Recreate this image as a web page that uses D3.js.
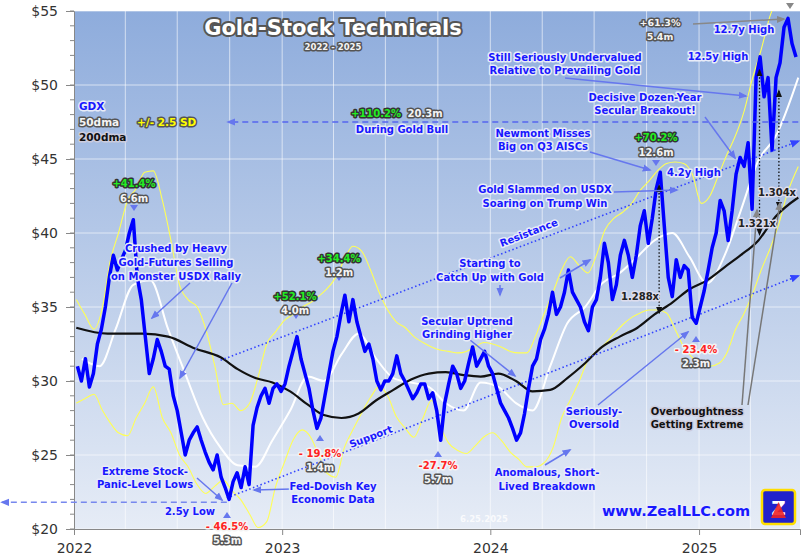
<!DOCTYPE html>
<html>
<head>
<meta charset="utf-8">
<script src="https://cdn.jsdelivr.net/npm/d3@7"></script>
<style>
  body { margin: 0; background: #fff; }
  text { font-family: "DejaVu Sans", Verdana, sans-serif; font-weight: bold; }
  .tick text { font-weight: normal; }
  .halo { paint-order: stroke; stroke-linejoin: round; }
</style>
</head>
<body>
<div id="chart"></div>
<script>
// GDX weekly closes, first week ending 2022-01-07
const gdx = [
  // 2022
  31.0, 30.0, 31.5, 29.6, 30.5, 32.5, 33.5, 35.0, 37.0, 38.5, 37.5, 38.2,
  38.8, 40.0, 40.9, 37.0, 35.5, 33.0, 30.5, 31.5, 32.8, 32.0, 31.0, 30.8, 29.0,
  28.0, 26.5, 25.0, 26.0, 26.5, 26.9, 26.0, 25.2, 24.5, 24.0, 25.0, 23.5, 22.8, 22.0,
  23.2, 23.8, 22.8, 24.2, 23.0, 27.0, 28.2, 29.0, 29.5, 28.5, 29.5, 29.8, 29.3,
  // 2023
  29.8, 31.0, 32.0, 33.0, 31.5, 30.5, 29.5, 28.0, 26.8, 27.5, 29.0, 30.5, 32.0,
  33.0, 34.5, 35.8, 34.0, 35.5, 34.0, 33.0, 32.0, 32.5, 31.5, 30.0, 29.4, 30.0,
  30.0, 30.5, 31.7, 30.5, 30.0, 29.4, 28.8, 29.2, 29.8, 29.8, 28.8, 29.2, 28.0,
  26.0, 28.5, 29.8, 31.0, 30.5, 29.5, 30.0, 31.2, 32.3, 31.0, 31.5, 32.0, 31.0,
  // 2024
  30.5, 29.5, 28.5, 28.0, 27.5, 26.8, 26.0, 26.5, 27.8, 29.5, 31.0, 31.5, 32.8,
  33.5, 34.5, 36.0, 34.5, 35.0, 36.0, 37.5, 36.0, 35.5, 35.0, 34.0, 33.4, 35.0,
  35.5, 37.0, 39.3, 38.0, 35.5, 36.5, 38.5, 39.5, 38.5, 37.0, 38.5, 40.5, 41.5,
  39.3, 41.0, 43.0, 44.1, 40.5, 37.0, 35.7, 38.2, 37.0, 37.8, 37.5, 34.3, 33.9,
  // 2025
  35.0, 36.1, 37.5, 39.0, 40.0, 42.2, 41.5, 39.5, 41.5, 44.0, 45.1, 44.5,
  46.1, 41.6, 50.5, 51.9, 49.2, 50.5, 45.6, 50.5, 51.5, 53.9, 54.5, 52.8, 51.9
]
const gdxStart = new Date(2022, 0, 7)

// 50dma (white), read at mid-month
const dma50Dates = ["2022-01-15","2022-02-15","2022-03-15","2022-04-15","2022-05-15","2022-06-15","2022-07-15","2022-08-15","2022-09-15","2022-10-15","2022-11-15","2022-12-15",
  "2023-01-15","2023-02-15","2023-03-15","2023-04-15","2023-05-15","2023-06-15","2023-07-15","2023-08-15","2023-09-15","2023-10-15","2023-11-15","2023-12-15",
  "2024-01-15","2024-02-15","2024-03-15","2024-04-15","2024-05-15","2024-06-15","2024-07-15","2024-08-15","2024-09-15","2024-10-15","2024-11-15","2024-12-15",
  "2025-01-15","2025-02-15","2025-03-15","2025-04-15","2025-05-15","2025-06-24"]
const dma50 = [31.5, 31.0, 33.5, 36.5, 36.8, 33.5, 30.5, 27.5, 25.5, 24.3, 24.2, 26.0,
  28.0, 30.3, 30.0, 31.8, 33.2, 31.5, 30.2, 29.9, 29.6, 28.5, 28.0, 29.9,
  29.6, 28.5, 28.0, 31.0, 33.9, 35.0, 36.6, 37.3, 38.4, 39.5, 40.0, 38.4,
  36.6, 38.5, 41.5, 44.9, 46.5, 50.5]

// 200dma (black), monthly
const dma200Dates = ["2022-01-05","2022-03-01","2022-05-01","2022-06-15","2022-08-01","2022-09-15","2022-10-15","2022-11-15","2022-12-15",
  "2023-01-15","2023-02-15","2023-03-15","2023-04-15","2023-05-15","2023-06-15","2023-07-15","2023-08-15","2023-09-15","2023-10-15","2023-11-15","2023-12-15",
  "2024-01-15","2024-02-15","2024-03-15","2024-04-15","2024-05-15","2024-06-15","2024-07-15","2024-08-15","2024-09-15","2024-10-15","2024-11-15","2024-12-15",
  "2025-01-15","2025-02-15","2025-03-15","2025-04-15","2025-05-15","2025-06-24"]
const dma200 = [33.6, 33.2, 33.2, 33.0, 32.2, 31.6, 30.8, 30.2, 29.9,
  29.3, 28.4, 27.7, 27.5, 27.8, 28.7, 29.4, 30.1, 30.5, 30.6, 30.4, 30.3,
  30.5, 30.0, 29.3, 29.4, 30.2, 31.2, 32.3, 33.0, 33.6, 34.5, 35.3, 36.2,
  36.8, 37.7, 38.5, 39.5, 41.1, 42.4]

// 50dma +/- 2.5 SD bands (yellow), twice a month
const bandDates = ["2022-01-05","2022-01-20","2022-02-05","2022-02-20","2022-03-05","2022-03-20","2022-04-05","2022-04-20","2022-05-05","2022-05-20","2022-06-05","2022-06-20",
  "2022-07-05","2022-07-20","2022-08-05","2022-08-20","2022-09-05","2022-09-20","2022-10-05","2022-10-20","2022-11-05","2022-11-20","2022-12-05","2022-12-20",
  "2023-01-05","2023-01-20","2023-02-05","2023-02-20","2023-03-05","2023-03-20","2023-04-05","2023-04-20","2023-05-05","2023-05-20","2023-06-05","2023-06-20",
  "2023-07-05","2023-07-20","2023-08-05","2023-08-20","2023-09-05","2023-09-20","2023-10-05","2023-10-20","2023-11-05","2023-11-20","2023-12-05","2023-12-20",
  "2024-01-05","2024-01-20","2024-02-05","2024-02-20","2024-03-05","2024-03-20","2024-04-05","2024-04-20","2024-05-05","2024-05-20","2024-06-05","2024-06-20",
  "2024-07-05","2024-07-20","2024-08-05","2024-08-20","2024-09-05","2024-09-20","2024-10-05","2024-10-20","2024-11-05","2024-11-20","2024-12-05","2024-12-20",
  "2025-01-05","2025-01-20","2025-02-05","2025-02-20","2025-03-05","2025-03-20","2025-04-05","2025-04-20","2025-05-05","2025-05-20","2025-06-05","2025-06-24"]
const bandUpper = [35.5, 34.5, 33.5, 35.0, 38.0, 40.0, 42.2, 43.0, 44.1, 44.2, 42.2, 39.5,
  36.5, 35.5, 35.0, 33.5, 31.0, 28.4, 28.5, 28.0, 28.5, 30.3, 32.5, 33.3,
  34.1, 34.5, 35.0, 35.3, 35.7, 36.2, 37.0, 38.2, 39.1, 38.8, 37.5, 36.0,
  34.8, 34.0, 33.6, 33.0, 32.6, 32.3, 32.1, 32.0, 31.9, 32.0, 32.3, 32.6,
  32.5, 32.3, 32.0, 31.9, 31.9, 33.0, 34.6, 36.0, 37.5, 38.4, 37.8, 37.3,
  38.5, 40.2, 41.0, 41.4, 42.0, 42.9, 43.5, 44.2, 44.7, 44.8, 44.7, 44.0,
  42.0, 42.5, 44.0, 45.4, 46.5, 48.1, 50.5, 52.4, 54.6, 56.0, 57.0, 57.5]
const bandLower = [28.5, 28.8, 29.1, 28.0, 27.2, 26.5, 26.3, 27.5, 28.5, 29.6, 27.5, 26.5,
  25.0, 24.2, 23.0, 22.4, 22.9, 23.3, 22.6, 22.0, 21.0, 20.1, 20.5, 22.8,
  24.5, 26.0, 26.7, 26.2, 25.1, 23.8, 23.5, 25.5, 26.7, 27.8, 28.9, 29.6,
  29.0, 27.6, 26.8, 26.2, 27.5, 28.7, 27.0, 25.8, 25.3, 25.1, 25.6, 26.2,
  26.5, 26.0, 25.2, 24.7, 24.2, 24.2, 24.5, 25.5, 27.5, 28.7, 30.0, 31.4,
  32.0, 32.5, 33.2, 33.8, 34.3, 34.6, 34.8, 34.8, 34.6, 33.5, 32.3, 31.6,
  31.0, 31.0, 31.2, 32.0, 33.4, 34.5, 35.9, 37.5, 38.9, 40.5, 42.7, 44.5]

const yTicks = [20, 25, 30, 35, 40, 45, 50, 55]
const yearTicks = ["2022", "2023", "2024", "2025"]

// trend channel ends [date, price]
const resistance = [["2022-09-15", 31.4], ["2025-06-24", 46.2]]
const support = [["2022-09-26", 22.1], ["2025-06-24", 37.1]]

const W = 805, H = 559
const m = { l: 74, r: 5, t: 11, b: 30 }
const parse = d3.timeParse("%Y-%m-%d")

const svg = d3.select("#chart").append("svg").attr("width", W).attr("height", H)

const x = d3.scaleTime()
  .domain([new Date(2022, 0, 1), new Date(2025, 5, 27)])
  .range([m.l, W - m.r])
const y = d3.scaleLinear().domain([20, 55]).range([H - m.b, m.t])

const defs = svg.append("defs")
const grad = defs.append("linearGradient").attr("id", "bg").attr("x1", 0).attr("y1", 0).attr("x2", 0).attr("y2", 1)
grad.append("stop").attr("offset", "0%").attr("stop-color", "#8eacdc")
grad.append("stop").attr("offset", "100%").attr("stop-color", "#e6ecf6")
defs.append("clipPath").attr("id", "clip").append("rect")
  .attr("x", m.l).attr("y", m.t).attr("width", W - m.r - m.l).attr("height", H - m.b - m.t)
const mk = (id, col) => defs.append("marker").attr("id", id).attr("viewBox", "0 0 10 10")
  .attr("refX", 8).attr("refY", 5).attr("markerWidth", 6).attr("markerHeight", 6).attr("orient", "auto")
  .append("path").attr("d", "M0,1 L10,5 L0,9 z").attr("fill", col)
mk("arB", "#6677ee"); mk("arK", "#111"); mk("arG", "#888"); mk("arD", "#3344ff")

svg.append("rect").attr("x", m.l).attr("y", m.t).attr("width", W - m.r - m.l).attr("height", H - m.b - m.t)
  .attr("fill", "url(#bg)")

// grid
const quarters = d3.timeMonth.every(3).range(new Date(2022, 0, 1), new Date(2025, 6, 1))
svg.append("g").selectAll("line").data(quarters).join("line")
  .attr("x1", d => x(d)).attr("x2", d => x(d)).attr("y1", m.t).attr("y2", H - m.b)
  .attr("stroke", "#fff").attr("stroke-opacity", 0.6)
svg.append("g").selectAll("line").data(yTicks).join("line")
  .attr("x1", m.l).attr("x2", W - m.r).attr("y1", d => y(d)).attr("y2", d => y(d))
  .attr("stroke", "#fff").attr("stroke-opacity", 0.6)

// axes
const yAxis = svg.append("g").attr("transform", `translate(${m.l},0)`)
  .call(d3.axisLeft(y).tickValues(yTicks).tickFormat(d => "$" + d).tickSize(8).tickPadding(8))
yAxis.append("g").selectAll("line").data(d3.range(20, 56)).join("line")
  .attr("x1", -4).attr("x2", 0).attr("y1", d => y(d)).attr("y2", d => y(d)).attr("stroke", "#888")
const xAxis = svg.append("g").attr("transform", `translate(0,${H - m.b})`)
  .call(d3.axisBottom(x).tickValues(yearTicks.map(s => new Date(+s, 0, 1))).tickFormat(d3.timeFormat("%Y")).tickSize(6).tickPadding(8))
svg.selectAll(".domain, .tick line").attr("stroke", "#888")
svg.selectAll(".tick text").attr("font-family", "DejaVu Sans")
  .attr("font-size", 14).attr("fill", "#333")

const plot = svg.append("g").attr("clip-path", "url(#clip)")
const line = d3.line().x(d => x(d[0])).y(d => y(d[1]))
const pairs = (ds, vs) => ds.map((d, i) => [parse(d), vs[i]])

plot.append("path").attr("d", line.curve(d3.curveMonotoneX)(pairs(bandDates, bandUpper)))
  .attr("fill", "none").attr("stroke", "#ffff55").attr("stroke-width", 1.1)
plot.append("path").attr("d", line(pairs(bandDates, bandLower)))
  .attr("fill", "none").attr("stroke", "#ffff55").attr("stroke-width", 1.1)
plot.append("path").attr("d", line(pairs(dma50Dates, dma50)))
  .attr("fill", "none").attr("stroke", "#fff").attr("stroke-width", 2)
plot.append("path").attr("d", line(pairs(dma200Dates, dma200)))
  .attr("fill", "none").attr("stroke", "#111").attr("stroke-width", 2.2)

// trend channel
const trend = (pts) => plot.append("line")
  .attr("x1", x(parse(pts[0][0]))).attr("y1", y(pts[0][1]))
  .attr("x2", x(parse(pts[1][0]))).attr("y2", y(pts[1][1]))
  .attr("stroke", "#3344ff").attr("stroke-width", 1.6).attr("stroke-dasharray", "1.5,2.5")
  .attr("marker-end", "url(#arD)")
trend(resistance); trend(support)

const gdxPts = gdx.map((v, i) => [d3.timeDay.offset(gdxStart, i * 7), v])
plot.append("path").attr("d", d3.line().x(d => x(d[0])).y(d => y(d[1]))(gdxPts))
  .attr("fill", "none").attr("stroke", "#0000ff").attr("stroke-width", 3.5).attr("stroke-linejoin", "round")

// dashed horizontal markers
svg.append("line").attr("x1", x(parse("2025-06-24"))).attr("x2", x(parse("2022-09-28")))
  .attr("y1", y(47.5)).attr("y2", y(47.5)).attr("stroke", "#5566ee").attr("stroke-width", 1.5)
  .attr("stroke-dasharray", "6,4").attr("marker-end", "url(#arB)")
svg.append("line").attr("x1", x(parse("2022-09-26"))).attr("x2", 2)
  .attr("y1", y(21.8)).attr("y2", y(21.8)).attr("stroke", "#7788ee").attr("stroke-width", 1.5)
  .attr("stroke-dasharray", "6,4").attr("marker-end", "url(#arB)")

// ratio arrows (dotted, two-headed)
defs.select("#arK").attr("orient", "auto-start-reverse")
const ratio = (d, p1, p2) => svg.append("line")
  .attr("x1", x(parse(d))).attr("x2", x(parse(d))).attr("y1", y(p1)).attr("y2", y(p2))
  .attr("stroke", "#111").attr("stroke-width", 1.3).attr("stroke-dasharray", "1.5,2")
  .attr("marker-start", "url(#arK)").attr("marker-end", "url(#arK)")
ratio("2024-10-23", 43.2, 34.6)
ratio("2025-04-17", 51.0, 39.9)
ratio("2025-05-21", 49.6, 41.7)

// annotation arrows
const arrow = (x1, y1, x2, y2, col, id) => svg.append("line")
  .attr("x1", x1).attr("y1", y1).attr("x2", x2).attr("y2", y2)
  .attr("stroke", col || "#6677ee").attr("stroke-width", 1.5).attr("marker-end", `url(#${id || "arB"})`)
arrow(565, 78, 746, 96)
arrow(705, 117, 735, 158)
arrow(590, 152, 650, 170)
arrow(614, 192, 677, 190)
arrow(560, 278, 590, 260)
arrow(190, 283, 152, 318)
arrow(232, 283, 180, 378)
arrow(470, 340, 515, 376)
arrow(500, 285, 500, 295)
arrow(598, 405, 688, 332)
arrow(545, 465, 570, 450)
arrow(197, 478, 222, 500)
arrow(292, 489, 254, 490)
arrow(693, 24, 784, 19, "#888", "arG")
arrow(742, 405, 757, 210, "#777", "arG")
arrow(748, 405, 780, 203, "#777", "arG")

// small peak / trough markers
const tri = (cx, cy, down, col) => svg.append("path")
  .attr("d", down ? `M${cx - 4},${cy - 5} L${cx + 4},${cy - 5} L${cx},${cy + 1} z` : `M${cx - 4},${cy + 5} L${cx + 4},${cy + 5} L${cx},${cy - 1} z`)
  .attr("fill", col || "#6677ee")
tri(134, 210, true); tri(296, 318, true); tri(339, 280, true); tri(656, 165, true)
tri(320, 436, false); tri(438, 452, false); tri(227, 513, false); tri(696, 337, false)
tri(790, 8, true, "#888")

// label helper
const styles = {
  blue: ["#1818ff", "#e8ecf8", 3],
  gray: ["#f4f4f4", "#555", 3],
  green: ["#22ee22", "#333", 3],
  red: ["#ff2222", "#f4f4f4", 3],
  yellow: ["#ffff00", "#555", 3],
  black: ["#111", "#ccd", 3],
  title: ["#fff", "#555", 4]
}
function label(tx, ty, txt, st, size, anchor, rot) {
  const s = styles[st]
  const t = svg.append("text").attr("class", "halo")
    .attr("x", tx).attr("y", ty).attr("font-size", size || 10)
    .attr("text-anchor", anchor || "middle")
    .attr("fill", s[0]).attr("stroke", s[1]).attr("stroke-width", s[2]).text(txt)
  if (rot) t.attr("transform", `rotate(${rot},${tx},${ty})`)
  return t
}

label(333, 35, "Gold-Stock Technicals", "title", 21)
label(333, 50, "2022 - 2025", "gray", 8.5)

label(79, 110, "GDX", "blue", 10.5, "start")
label(79, 126, "50dma", "gray", 10.5, "start")
label(137, 126, "+/- 2.5 SD", "yellow", 10.5, "start")
label(79, 141, "200dma", "black", 10.5, "start")

label(376, 117, "+110.2%", "green", 10, "middle")
label(425, 117, "20.3m", "gray", 10, "middle")
label(402, 133, "During Gold Bull", "blue", 10)

label(565, 61, "Still Seriously Undervalued", "blue", 10)
label(565, 74, "Relative to Prevailing Gold", "blue", 10)
label(660, 26, "+61.3%", "gray", 9.5)
label(660, 40, "5.4m", "gray", 9.5)
label(744, 33, "12.7y High", "blue", 10)
label(718, 60, "12.5y High", "blue", 10)
label(645, 101, "Decisive Dozen-Year", "blue", 10)
label(645, 114, "Secular Breakout!", "blue", 10)
label(543, 137, "Newmont Misses", "blue", 10)
label(543, 150, "Big on Q3 AISCs", "blue", 10)
label(656, 141, "+70.2%", "green", 10)
label(656, 156, "12.6m", "gray", 10)
label(694, 176, "4.2y High", "blue", 10)
label(545, 193, "Gold Slammed on USDX", "blue", 10)
label(545, 207, "Soaring on Trump Win", "blue", 10)
label(530, 236, "Resistance", "blue", 10, "middle", -21)
label(490, 267, "Starting to", "blue", 10)
label(490, 281, "Catch Up with Gold", "blue", 10)
label(176, 252, "Crushed by Heavy", "blue", 10)
label(176, 266, "Gold-Futures Selling", "blue", 10)
label(176, 280, "on Monster USDX Rally", "blue", 10)
label(134, 187, "+41.4%", "green", 10)
label(134, 202, "6.6m", "gray", 10)
label(339, 262, "+34.4%", "green", 10)
label(339, 276, "1.2m", "gray", 10)
label(295, 300, "+52.1%", "green", 10)
label(295, 314, "4.0m", "gray", 10)
label(467, 325, "Secular Uptrend", "blue", 10)
label(467, 338, "Grinding Higher", "blue", 10)
label(594, 415, "Seriously-", "blue", 10)
label(594, 428, "Oversold", "blue", 10)
label(697, 415, "Overboughtness", "black", 10)
label(697, 428, "Getting Extreme", "black", 10)
label(640, 300, "1.288x", "gray", 10).attr("fill", "#222").attr("stroke", "#dde")
label(757, 227, "1.321x", "gray", 10).attr("fill", "#222").attr("stroke", "#dde")
label(777, 196, "1.304x", "gray", 10).attr("fill", "#222").attr("stroke", "#dde")
label(320, 457, "- 19.8%", "red", 10)
label(320, 471, "1.4m", "gray", 10)
label(438, 469, "-27.7%", "red", 10)
label(438, 483, "5.7m", "gray", 10)
label(696, 353, "- 23.4%", "red", 10)
label(696, 367, "2.3m", "gray", 10)
label(227, 530, "- 46.5%", "red", 10)
label(227, 544, "5.3m", "gray", 10)
label(190, 515, "2.5y Low", "blue", 10)
label(145, 475, "Extreme Stock-", "blue", 10)
label(145, 488, "Panic-Level Lows", "blue", 10)
label(333, 490, "Fed-Dovish Key", "blue", 10)
label(333, 503, "Economic Data", "blue", 10)
label(372, 440, "Support", "blue", 10, "middle", -21)
label(547, 476, "Anomalous, Short-", "blue", 10)
label(547, 490, "Lived Breakdown", "blue", 10)
label(676, 516, "www.ZealLLC.com", "blue", 14.5)
svg.append("text").attr("x", 484).attr("y", 522).attr("text-anchor", "middle")
  .attr("font-size", 8.5).attr("fill", "#fff").attr("fill-opacity", 0.8).text("6.25.2025")

// logo box
const logo = svg.append("g").attr("transform", "translate(762,490)")
logo.append("rect").attr("width", 33).attr("height", 34).attr("rx", 3)
  .attr("fill", "#2222cc").attr("stroke", "#ffdd00").attr("stroke-width", 2.5)
logo.append("text").attr("x", 16.5).attr("y", 25).attr("text-anchor", "middle")
  .attr("font-size", 20).attr("fill", "#fff").text("Z")
logo.append("path").attr("d", "M9,28 L16.5,12 L24,28 z").attr("fill", "#ee2222").attr("fill-opacity", 0.9)
</script>
</body>
</html>
